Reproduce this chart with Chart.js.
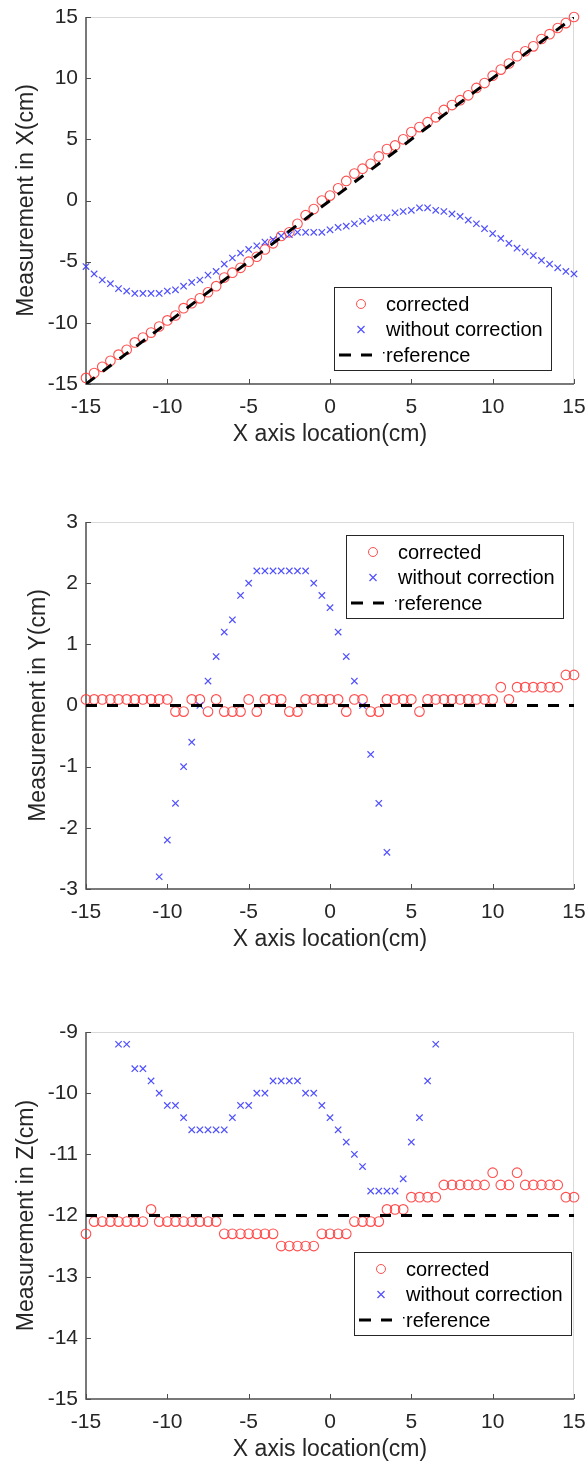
<!DOCTYPE html>
<html>
<head>
<meta charset="utf-8">
<script src="https://cdn.jsdelivr.net/npm/chart.js@4.4.1/dist/chart.umd.min.js"></script>
<style>
  html, body { margin: 0; padding: 0; background: #fff; }
  body { width: 588px; height: 1465px; position: relative; overflow: hidden; }
  canvas { position: absolute; left: 0; }
  #chartX { top: 0; }
  #chartY { top: 505px; }
  #chartZ { top: 1015px; }
</style>
</head>
<body>
<canvas id="chartX" width="588" height="450"></canvas>
<canvas id="chartY" width="588" height="450"></canvas>
<canvas id="chartZ" width="588" height="450"></canvas>
<script>
// x axis location (cm) of every measurement
const locations = [
  -15, -14.5, -14, -13.5, -13, -12.5, -12, -11.5, -11, -10.5,
  -10, -9.5, -9, -8.5, -8, -7.5, -7, -6.5, -6, -5.5,
  -5, -4.5, -4, -3.5, -3, -2.5, -2, -1.5, -1, -0.5,
  0, 0.5, 1, 1.5, 2, 2.5, 3, 3.5, 4, 4.5,
  5, 5.5, 6, 6.5, 7, 7.5, 8, 8.5, 9, 9.5,
  10, 10.5, 11, 11.5, 12, 12.5, 13, 13.5, 14, 14.5, 15
];

// Measurement in X
const correctedX = [
  -14.5, -14.1, -13.6, -13.1, -12.6, -12.2, -11.6, -11.2, -10.8, -10.3,
  -9.8, -9.4, -8.8, -8.4, -8.0, -7.5, -7.0, -6.3, -5.9, -5.5,
  -5.0, -4.6, -4.0, -3.5, -2.9, -2.6, -1.9, -1.2, -0.7, 0.0,
  0.4, 1.0, 1.6, 2.2, 2.6, 3.0, 3.6, 4.2, 4.5, 5.0,
  5.6, 6.0, 6.4, 6.8, 7.4, 7.8, 8.2, 8.6, 9.2, 9.6,
  10.2, 10.7, 11.2, 11.8, 12.2, 12.6, 13.2, 13.6, 14.1, 14.5, 15.0
];
const rawX = [
  -5.4, -6.0, -6.5, -6.8, -7.2, -7.4, -7.6, -7.6, -7.6, -7.6,
  -7.4, -7.3, -7.0, -6.7, -6.5, -6.1, -5.8, -5.2, -4.7, -4.3,
  -4.0, -3.7, -3.4, -3.2, -2.9, -2.8, -2.6, -2.6, -2.6, -2.6,
  -2.4, -2.2, -2.1, -1.9, -1.7, -1.5, -1.4, -1.4, -1.0, -0.9,
  -0.8, -0.6, -0.6, -0.8, -0.9, -1.1, -1.3, -1.6, -1.9, -2.3,
  -2.7, -3.1, -3.5, -3.9, -4.2, -4.5, -4.9, -5.2, -5.5, -5.8, -6.0
];
const refLineX = [-15, 15];
const refX = [-15, 15];

// Measurement in Y (crosses outside the axis range are not visible)
const correctedY = [
  0.1, 0.1, 0.1, 0.1, 0.1, 0.1, 0.1, 0.1, 0.1, 0.1,
  0.1, -0.1, -0.1, 0.1, 0.1, -0.1, 0.1, -0.1, -0.1, -0.1,
  0.1, -0.1, 0.1, 0.1, 0.1, -0.1, -0.1, 0.1, 0.1, 0.1,
  0.1, 0.1, -0.1, 0.1, 0.1, -0.1, -0.1, 0.1, 0.1, 0.1,
  0.1, -0.1, 0.1, 0.1, 0.1, 0.1, 0.1, 0.1, 0.1, 0.1,
  0.1, 0.3, 0.1, 0.3, 0.3, 0.3, 0.3, 0.3, 0.3, 0.5, 0.5
];
const rawY = [
  null, null, null, null, null, null, null, null, null, -2.8,
  -2.2, -1.6, -1.0, -0.6, 0.0, 0.4, 0.8, 1.2, 1.4, 1.8,
  2.0, 2.2, 2.2, 2.2, 2.2, 2.2, 2.2, 2.2, 2.0, 1.8,
  1.6, 1.2, 0.8, 0.4, 0.0, -0.8, -1.6, -2.4, null, null,
  null, null, null, null, null, null, null, null, null, null,
  null, null, null, null, null, null, null, null, null, null, null
];
const refY = [0, 0];

// Measurement in Z
const correctedZ = [
  -12.3, -12.1, -12.1, -12.1, -12.1, -12.1, -12.1, -12.1, -11.9, -12.1,
  -12.1, -12.1, -12.1, -12.1, -12.1, -12.1, -12.1, -12.3, -12.3, -12.3,
  -12.3, -12.3, -12.3, -12.3, -12.5, -12.5, -12.5, -12.5, -12.5, -12.3,
  -12.3, -12.3, -12.3, -12.1, -12.1, -12.1, -12.1, -11.9, -11.9, -11.9,
  -11.7, -11.7, -11.7, -11.7, -11.5, -11.5, -11.5, -11.5, -11.5, -11.5,
  -11.3, -11.5, -11.5, -11.3, -11.5, -11.5, -11.5, -11.5, -11.5, -11.7, -11.7
];
const rawZ = [
  null, null, null, null, -9.2, -9.2, -9.6, -9.6, -9.8, -10.0,
  -10.2, -10.2, -10.4, -10.6, -10.6, -10.6, -10.6, -10.6, -10.4, -10.2,
  -10.2, -10.0, -10.0, -9.8, -9.8, -9.8, -9.8, -10.0, -10.0, -10.2,
  -10.4, -10.6, -10.8, -11.0, -11.2, -11.6, -11.6, -11.6, -11.6, -11.4,
  -10.8, -10.4, -9.8, -9.2, null, null, null, null, null, null,
  null, null, null, null, null, null, null, null, null, null, null
];
const refZ = [-12, -12];

const xTicks = [-15, -10, -5, 0, 5, 10, 15];
const legendLabels = ["corrected", "without correction", "reference"];

const FONT = "'Liberation Sans', Arial, sans-serif";
const INK = "#262626";
const RED = "rgba(255, 60, 60, 0.9)";
const BLUE = "rgba(60, 60, 255, 0.9)";

function pairs(xs, ys) {
  return xs.map((x, i) => ({ x: x, y: ys[i] }));
}

// MATLAB-like axes: dark left/bottom lines, light box, ticks pointing inward
const matlabAxes = {
  id: "matlabAxes",
  beforeDatasetsDraw(chart) {
    const { ctx, chartArea: a, scales } = chart;
    ctx.save();
    ctx.lineWidth = 1;
    ctx.strokeStyle = "#d9d9d9";
    ctx.beginPath();
    ctx.moveTo(a.left, a.top + 0.5);
    ctx.lineTo(a.right, a.top + 0.5);
    ctx.moveTo(a.right - 0.5, a.top);
    ctx.lineTo(a.right - 0.5, a.bottom);
    ctx.stroke();
    ctx.strokeStyle = "#4d4d4d";
    ctx.lineWidth = 1.5;
    ctx.beginPath();
    ctx.moveTo(a.left, a.top);
    ctx.lineTo(a.left, a.bottom);
    ctx.lineTo(a.right, a.bottom);
    ctx.stroke();
    ctx.lineWidth = 1;
    ctx.beginPath();
    scales.x.ticks.forEach(t => {
      const px = Math.round(scales.x.getPixelForValue(t.value)) + 0.5;
      ctx.moveTo(px, a.bottom);
      ctx.lineTo(px, a.bottom - 5);
    });
    scales.y.ticks.forEach(t => {
      const py = Math.round(scales.y.getPixelForValue(t.value)) + 0.5;
      ctx.moveTo(a.left, py);
      ctx.lineTo(a.left + 5, py);
    });
    ctx.stroke();
    ctx.restore();
  },
  afterDatasetsDraw(chart, args, opts) {
    const { ctx, chartArea: a } = chart;
    const w = 217, h = 83;
    const left = a.right - opts.right - w;
    const top = opts.top != null ? a.top + opts.top : a.bottom - opts.bottom - h;
    ctx.save();
    ctx.fillStyle = "#fff";
    ctx.fillRect(left, top, w, h);
    ctx.strokeStyle = "#262626";
    ctx.lineWidth = 1;
    ctx.strokeRect(Math.round(left) + 0.5, Math.round(top) + 0.5, w, h);
    ctx.font = "20px " + FONT;
    ctx.fillStyle = "#000";
    ctx.textBaseline = "middle";
    const mx = left + 27;
    legendLabels.forEach((label, i) => {
      const y = top + 17 + i * 25.5;
      if (i === 0) {
        ctx.strokeStyle = RED;
        ctx.beginPath();
        ctx.arc(mx, y, 4.5, 0, Math.PI * 2);
        ctx.stroke();
      } else if (i === 1) {
        ctx.strokeStyle = BLUE;
        ctx.lineWidth = 1.2;
        ctx.beginPath();
        ctx.moveTo(mx - 3.5, y - 3.5); ctx.lineTo(mx + 3.5, y + 3.5);
        ctx.moveTo(mx + 3.5, y - 3.5); ctx.lineTo(mx - 3.5, y + 3.5);
        ctx.stroke();
      } else {
        ctx.strokeStyle = "#000";
        ctx.lineWidth = 3;
        ctx.beginPath();
        ctx.moveTo(left + 5, y); ctx.lineTo(left + 17, y);
        ctx.moveTo(left + 27, y); ctx.lineTo(left + 38, y);
        ctx.stroke();
        ctx.fillRect(left + 49, y - 3, 1.5, 1.5);
      }
      ctx.fillText(label, left + 52, y + 1);
    });
    ctx.restore();
  }
};

function makeChart(id, corrected, raw, refValues, yMin, yMax, yStep, yTitle, yTitlePad, legendPos) {
  return new Chart(document.getElementById(id), {
    type: "scatter",
    data: {
      datasets: [
        {
          label: legendLabels[2],
          data: pairs(refLineX, refValues),
          showLine: true,
          borderColor: "#000",
          borderWidth: 3,
          borderDash: [11, 10],
          pointRadius: 0,
          order: 0
        },
        {
          label: legendLabels[1],
          data: pairs(locations, raw),
          pointStyle: "crossRot",
          pointRadius: 4.5,
          borderColor: BLUE,
          backgroundColor: BLUE,
          pointBorderWidth: 1.2,
          clip: false,
          order: 1
        },
        {
          label: legendLabels[0],
          data: pairs(locations, corrected),
          pointStyle: "circle",
          pointRadius: 4.8,
          borderColor: RED,
          backgroundColor: "rgba(0,0,0,0)",
          pointBorderWidth: 1.1,
          clip: false,
          order: 2
        }
      ]
    },
    options: {
      responsive: false,
      animation: false,
      events: [],
      layout: { padding: { top: 17, right: 14, bottom: 0, left: 0 } },
      plugins: {
        legend: { display: false },
        tooltip: { enabled: false },
        matlabAxes: legendPos
      },
      scales: {
        x: {
          type: "linear",
          min: -15,
          max: 15,
          afterBuildTicks: s => { s.ticks = xTicks.map(v => ({ value: v })); },
          afterFit: s => { s.height = 66; s.paddingLeft = 0; s.paddingRight = 0; },
          grid: { display: false, drawTicks: false },
          border: { display: false },
          ticks: { color: INK, font: { family: FONT, size: 21 }, padding: 11, maxRotation: 0, autoSkip: false },
          title: {
            display: true,
            text: "X axis location(cm)",
            color: INK,
            font: { family: FONT, size: 23 },
            padding: { top: 0, bottom: 2 }
          }
        },
        y: {
          type: "linear",
          min: yMin,
          max: yMax,
          ticks: { stepSize: yStep, color: INK, font: { family: FONT, size: 21 }, padding: 8, autoSkip: false },
          afterFit: s => { s.width = 86; s.paddingTop = 0; s.paddingBottom = 0; },
          grid: { display: false, drawTicks: false },
          border: { display: false },
          title: {
            display: true,
            text: yTitle,
            color: INK,
            font: { family: FONT, size: 23 },
            padding: { top: yTitlePad + 2, bottom: 0 }
          }
        }
      }
    },
    plugins: [matlabAxes]
  });
}

makeChart("chartX", correctedX, rawX, refX, -15, 15, 5, "Measurement in X(cm)", 11, { right: 23, bottom: 14 });
makeChart("chartY", correctedY, rawY, refY, -3, 3, 1, "Measurement in Y(cm)", 23, { right: 11, top: 13 });
makeChart("chartZ", correctedZ, rawZ, refZ, -15, -9, 1, "Measurement in Z(cm)", 11, { right: 3, top: 220 });
</script>
</body>
</html>
